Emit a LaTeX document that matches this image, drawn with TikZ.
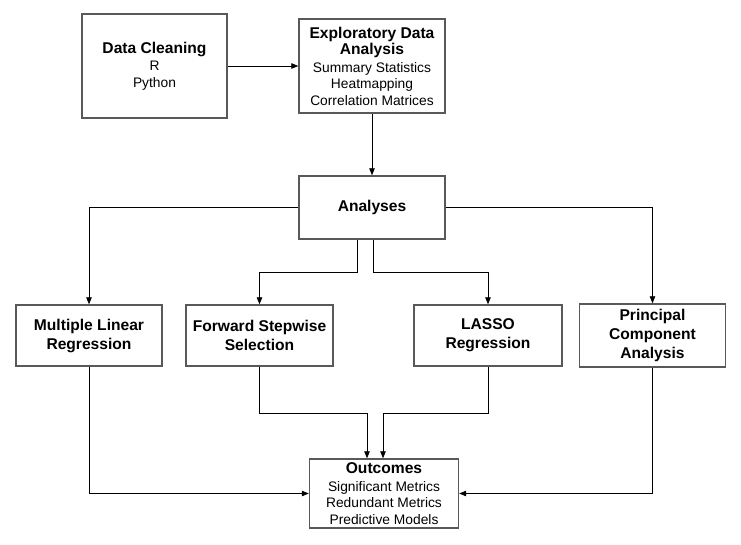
\documentclass[tikz,border=0pt]{standalone}
\usepackage{fontspec}
\setmainfont{Liberation Sans}
\usepackage{tikz}
\usetikzlibrary{arrows.meta,calc}

\newcommand{\hdtext}[1]{{\fontsize{15.6}{19}\selectfont\bfseries #1}}

\begin{document}
\begin{tikzpicture}[
    x=1pt, y=-1pt,
    box/.style={draw=black!65, line width=1.4pt, align=center, inner sep=2pt,
        font=\fontsize{13.8}{16.5}\selectfont},
    hdbox/.style={box, font=\fontsize{15.6}{19}\selectfont\bfseries},
    arr/.style={-{Triangle[length=7pt,width=5.5pt]}, line width=0.8pt}
]
    \useasboundingbox (0,0) rectangle (741,544);

    % top row
    \node[box, minimum width=145pt, minimum height=104pt] (clean) at (154.5,66)
        {\hdtext{Data Cleaning}\\[1pt] R\\ Python};
    \node[box, minimum width=146pt, minimum height=94pt] (eda) at (372,66)
        {\hdtext{Exploratory Data}\\ \hdtext{Analysis}\\[1pt] Summary Statistics\\ Heatmapping\\ Correlation Matrices};

    \node[hdbox, minimum width=146pt, minimum height=63pt] (ana) at (372,207.5) {Analyses};

    % methods
    \node[hdbox, minimum width=146pt, minimum height=61pt] (mlr) at (89,335.5) {Multiple Linear\\ Regression};
    \node[hdbox, minimum width=147pt, minimum height=61pt] (fss) at (259.5,335.5) {Forward Stepwise\\ Selection};
    \node[hdbox, minimum width=148pt, minimum height=61pt] (lasso) at (488,335.5) {LASSO\\ Regression};
    \node[hdbox, minimum width=146pt, minimum height=63pt] (pca) at (652.5,335.5) {Principal\\ Component\\ Analysis};

    \node[box, minimum width=149pt, minimum height=69pt] (out) at (384,493.5)
        {\hdtext{Outcomes}\\[1pt] Significant Metrics\\ Redundant Metrics\\ Predictive Models};

    % connectors
    \draw[arr] (clean) -- (eda);
    \draw[arr] (eda) -- (ana);
    \draw[arr] (ana.west) -| (mlr.north);
    \draw[arr] (ana.east) -| (pca.north);
    \draw[arr] ([xshift=-15pt]ana.south) -- ++(0,33) -| (fss.north);
    \draw[arr] ([xshift=1pt]ana.south) -- ++(0,33) -| (lasso.north);
    \draw[arr] (fss.south) -- ++(0,47) -| ([xshift=-17pt]out.north);
    \draw[arr] (lasso.south) -- ++(0,47) -| ([xshift=-1pt]out.north);
    \draw[arr] (mlr.south) |- (out.west);
    \draw[arr] (pca.south) |- (out.east);
\end{tikzpicture}
\end{document}
